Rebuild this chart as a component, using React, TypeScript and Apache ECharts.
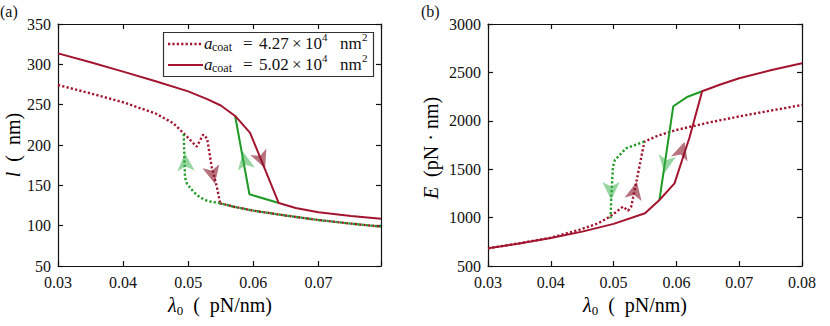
import React, { useEffect, useRef } from 'react';
import * as echarts from 'echarts';

// ---------- panel (a): l vs lambda0 ----------
const aSolidRed: number[][] = [
  [0.03, 313.6], [0.035, 302.5], [0.04, 291], [0.045, 279], [0.05, 266.5], [0.053, 256.5], [0.055, 249],
  [0.0572, 236], [0.0595, 215], [0.0639, 128], [0.0665, 121.8], [0.07, 116.5], [0.075, 112], [0.0796, 108.7],
];
const aSolidGreen: number[][] = [[0.0639, 128], [0.0594, 139], [0.0572, 236]];
const aDottedRedUpper: number[][] = [
  [0.03, 274.4], [0.035, 264], [0.04, 253], [0.045, 239], [0.0477, 227], [0.0493, 214.5],
  [0.0513, 198], [0.0523, 213], [0.0529, 208], [0.0536, 173], [0.0544, 148], [0.0549, 127.7],
];
const aDottedLower: number[][] = [
  [0.0549, 127.7], [0.057, 123.5], [0.06, 118.6], [0.065, 112.5], [0.07, 107], [0.075, 102.5], [0.0796, 98.8],
];
const aDottedGreen: number[][] = [
  [0.0549, 127.7], [0.053, 130.5], [0.0518, 135], [0.0508, 142], [0.0498, 152], [0.0495, 160], [0.0493, 214.5],
];
const aArrows: number[][] = [[0.0618, 171], [0.0584, 192], [0.0495, 190], [0.0541, 152]];

// ---------- panel (b): E vs lambda0 ----------
const bSolidRed: number[][] = [
  [0.03, 682.5], [0.035, 733], [0.04, 790], [0.045, 855], [0.05, 935], [0.055, 1045],
  [0.0573, 1182], [0.0597, 1354], [0.0621, 1830], [0.0641, 2305], [0.067, 2375], [0.07, 2440], [0.075, 2522], [0.08, 2594],
];
const bSolidGreen: number[][] = [[0.0641, 2305], [0.0618, 2249], [0.0595, 2150], [0.0573, 1182]];
const bDottedRed: number[][] = [
  [0.03, 682.5], [0.035, 735], [0.04, 792], [0.0446, 875], [0.0475, 940], [0.0494, 1009], [0.0515, 1113],
  [0.0523, 1071], [0.0528, 1113], [0.0539, 1458], [0.0549, 1784], [0.057, 1845], [0.06, 1905], [0.065, 1980],
  [0.07, 2045], [0.075, 2105], [0.08, 2163],
];
const bDottedGreen: number[][] = [
  [0.0549, 1784], [0.052, 1716], [0.0502, 1595], [0.0499, 1526], [0.0497, 1300], [0.0495, 992],
];
const bArrows: number[][] = [[0.0613, 1784], [0.0581, 1457], [0.0496, 1182], [0.0537, 1371]];

const xRangeA = [0.03, 0.0796];
const yRangeA = [50, 350];
const xRangeB = [0.03, 0.08];
const yRangeB = [500, 3000];

const legendValues = ['4.27', '5.02'];

const RED = '#A2142F';
const GREEN = '#1E9A25';
const ARROW_RED = 'rgba(135,20,40,0.75)';
const ARROW_GREEN = 'rgba(55,175,75,0.65)';
const FONT = "'Liberation Serif', 'Times New Roman', serif";

const App: React.FC = () => {
  const ref = useRef<HTMLDivElement>(null);
  useEffect(() => {
    if (!ref.current) return;
    const chart = echarts.init(ref.current, undefined, { renderer: 'svg' });

    const xlbl = (v: number) => {
      const k = Math.round(v * 100);
      if (Math.abs(v * 100 - k) > 1e-6) return '';
      return (k / 100).toFixed(2);
    };
    const ylbl = (v: number) => String(Math.round(v));
    const axisBase = (extra: any) => ({
      type: 'value',
      splitLine: { show: false },
      axisLine: { show: true, onZero: false, lineStyle: { color: '#111', width: 1.2 } },
      axisTick: { show: true, inside: true, length: 5, lineStyle: { color: '#111', width: 1.2 } },
      ...extra,
    });
    const labelStyle = { color: '#111', fontFamily: FONT, fontSize: 16 };

    const xAxis = [
      axisBase({ gridIndex: 0, position: 'bottom', min: xRangeA[0], max: xRangeA[1], interval: 0.01,
        axisLabel: { ...labelStyle, margin: 8, formatter: xlbl } }),
      axisBase({ gridIndex: 0, position: 'top', min: xRangeA[0], max: xRangeA[1], interval: 0.01, axisLabel: { show: false } }),
      axisBase({ gridIndex: 1, position: 'bottom', min: xRangeB[0], max: xRangeB[1], interval: 0.01,
        axisLabel: { ...labelStyle, margin: 8, formatter: xlbl } }),
      axisBase({ gridIndex: 1, position: 'top', min: xRangeB[0], max: xRangeB[1], interval: 0.01, axisLabel: { show: false } }),
    ];
    const yAxis = [
      axisBase({ gridIndex: 0, position: 'left', min: yRangeA[0], max: yRangeA[1], interval: 50,
        axisLabel: { ...labelStyle, margin: 7, formatter: ylbl } }),
      axisBase({ gridIndex: 0, position: 'right', min: yRangeA[0], max: yRangeA[1], interval: 50, axisLabel: { show: false } }),
      axisBase({ gridIndex: 1, position: 'left', min: yRangeB[0], max: yRangeB[1], interval: 500,
        axisLabel: { ...labelStyle, margin: 7, formatter: ylbl } }),
      axisBase({ gridIndex: 1, position: 'right', min: yRangeB[0], max: yRangeB[1], interval: 500, axisLabel: { show: false } }),
    ];

    const line = (data: number[][], xi: number, yi: number, color: string, dotted: boolean, offset = 0, z = 2) => ({
      type: 'line',
      xAxisIndex: xi,
      yAxisIndex: yi,
      data,
      showSymbol: false,
      symbol: 'none',
      z,
      lineStyle: dotted
        ? { color, width: 2.4, type: [2.2, 2.2], dashOffset: offset, cap: 'butt' }
        : { color, width: 2, type: 'solid' },
    });
    const arrows = (pts: number[][], rots: number[], colors: string[], xi: number, yi: number) =>
      pts.map((p, i) => ({
        type: 'scatter',
        xAxisIndex: xi,
        yAxisIndex: yi,
        z: 5,
        symbol: 'arrow',
        symbolSize: [13, 18],
        symbolRotate: rots[i],
        data: [p],
        itemStyle: { color: colors[i] },
      }));

    const series: any[] = [
      line(aDottedRedUpper, 0, 0, RED, true),
      line(aDottedLower, 0, 0, RED, true),
      line(aDottedLower, 0, 0, GREEN, true, 2.2, 3),
      line(aDottedGreen, 0, 0, GREEN, true, 0, 3),
      line(aSolidGreen, 0, 0, GREEN, false),
      line(aSolidRed, 0, 0, RED, false, 0, 3),
      ...arrows(aArrows, [202, 11, 3, 193], [ARROW_RED, ARROW_GREEN, ARROW_GREEN, ARROW_RED], 0, 0),
      line(bDottedRed, 2, 2, RED, true),
      line(bDottedGreen, 2, 2, GREEN, true, 0, 3),
      line(bSolidGreen, 2, 2, GREEN, false),
      line(bSolidRed, 2, 2, RED, false, 0, 3),
      ...arrows(bArrows, [-17, 171, 180, -12], [ARROW_RED, ARROW_GREEN, ARROW_GREEN, ARROW_RED], 2, 2),
    ];

    const mainFs = 20;
    const richName = {
      i: { fontFamily: FONT, fontSize: mainFs, fontStyle: 'italic', color: '#111', lineHeight: 24 },
      r: { fontFamily: FONT, fontSize: mainFs, color: '#111', lineHeight: 24 },
      s: { fontFamily: FONT, fontSize: 13, color: '#111', verticalAlign: 'bottom', lineHeight: 24 },
    };

    const txt = (x: number, y: number, text: string, fs: number, italic = false) => ({
      type: 'text', z: 11, x, y,
      style: { text, fontFamily: FONT, fontSize: fs, fontStyle: italic ? 'italic' : 'normal', fill: '#111', verticalAlign: 'middle', align: 'left' },
    });
    const legendRow = (y: number, val: string) => [
      txt(204, y, 'a', 17, true),
      txt(212, y + 4, 'coat', 12),
      txt(243, y, '=', 17),
      txt(259, y, val, 17),
      txt(292, y, '×', 17),
      txt(305, y, '10', 17),
      txt(322, y - 6, '4', 11),
      txt(340, y, 'nm', 17),
      txt(362, y - 6, '2', 11),
    ];

    const graphic: any[] = [
      { type: 'text', x: 0, y: 11, style: { text: '(a)', fontFamily: FONT, fontSize: 16, fill: '#111', verticalAlign: 'middle' } },
      { type: 'text', x: 421, y: 11, style: { text: '(b)', fontFamily: FONT, fontSize: 16, fill: '#111', verticalAlign: 'middle' } },
      { type: 'text', x: 220, y: 305, style: { text: '{i|λ}{s|0}{r|  (  pN/nm)}', rich: richName, align: 'center', verticalAlign: 'middle' } },
      { type: 'text', x: 635, y: 305, style: { text: '{i|λ}{s|0}{r|  (  pN/nm)}', rich: richName, align: 'center', verticalAlign: 'middle' } },
      { type: 'text', x: 13, y: 145, rotation: Math.PI / 2, style: { text: '{i|l}{r|  (  nm)}', rich: richName, align: 'center', verticalAlign: 'middle' } },
      { type: 'text', x: 431, y: 148, rotation: Math.PI / 2, style: { text: '{i|E}{r|  (pN · nm)}', rich: richName, align: 'center', verticalAlign: 'middle' } },
      // legend
      { type: 'rect', z: 10, shape: { x: 163.5, y: 32.5, width: 210, height: 44 }, style: { fill: '#fff', stroke: '#333', lineWidth: 1.2 } },
      { type: 'line', z: 11, shape: { x1: 168, y1: 44, x2: 203, y2: 44 }, style: { stroke: RED, lineWidth: 2.4, lineDash: [2.2, 2.2] } },
      { type: 'line', z: 11, shape: { x1: 168, y1: 65, x2: 203, y2: 65 }, style: { stroke: RED, lineWidth: 2 } },
      ...legendRow(43, legendValues[0]),
      ...legendRow(64, legendValues[1]),
    ];

    chart.setOption({
      animation: false,
      backgroundColor: '#fff',
      grid: [
        { left: 58, top: 24, width: 323, height: 242 },
        { left: 488, top: 24, width: 314, height: 242 },
      ],
      xAxis,
      yAxis,
      series,
      graphic,
    });
    return () => chart.dispose();
  }, []);
  return <div ref={ref} style={{ position: 'absolute', left: 0, top: 0, width: 830, height: 326 }} />;
};

export default App;
